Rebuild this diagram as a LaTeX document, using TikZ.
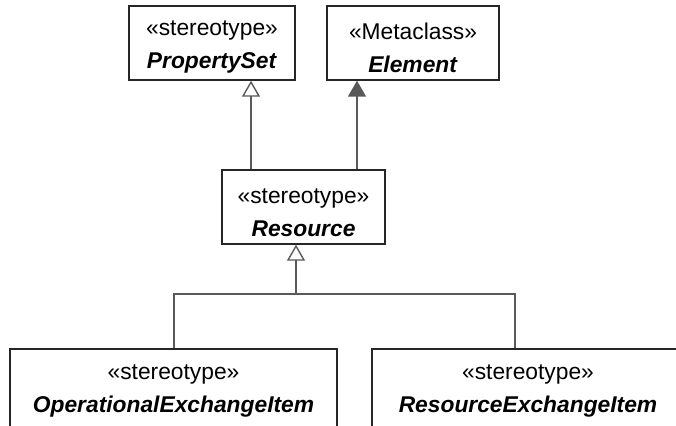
\documentclass[tikz,border=0pt]{standalone}
\usepackage{fontspec}
\setmainfont{Liberation Sans}
\usetikzlibrary{arrows.meta}
\begin{document}
\begin{tikzpicture}[x=1pt,y=1pt,
  box/.style={draw=black!85, line width=1.4pt, rectangle, inner sep=0pt},
  txt/.style={inner sep=0pt, align=center, font=\fontsize{22.8}{33}\selectfont},
  conn/.style={draw=black!65, line width=1.4pt},
  gen/.style={conn, -{Triangle[open, length=16pt, width=18pt, fill=white]}},
  ext/.style={conn, -{Triangle[length=16pt, width=18pt]}}]
\useasboundingbox (0,0) rectangle (676,425);
\clip (0,0) rectangle (676,425);
\node[box, minimum width=166pt, minimum height=74pt] (ps) at (212,382) {};
\node[box, minimum width=172pt, minimum height=74pt] (el) at (413,382) {};
\node[box, minimum width=163pt, minimum height=74pt] (res) at (303.5,218) {};
\node[box, minimum width=327pt, minimum height=90pt] (oei) at (173.5,31) {};
\node[box, minimum width=318pt, minimum height=90pt] (rei) at (531,31) {};
\node[txt] (pst) at (212,377.5) {«stereotype»\\\textbf{\textit{PropertySet}}};
\node[txt] (elt) at (413,377.5) {«Metaclass»\\\textbf{\textit{Element}}};
\node[txt] (rest) at (303.5,212.5) {«stereotype»\\\textbf{\textit{Resource}}};
\node[txt] (oeit) at (173.5,34.5) {«stereotype»\\\textbf{\textit{OperationalExchangeItem}}};
\node[txt] (reit) at (528,34.5) {«stereotype»\\\textbf{\textit{ResourceExchangeItem}}};
\coordinate (psx) at (251,0);
\coordinate (elx) at (357,0);
\coordinate (j) at (296,131);
\coordinate (lx) at (174,0);
\coordinate (rx) at (515,0);
\draw[gen] (res.north -| psx) -- (ps.south -| psx);
\draw[ext] (res.north -| elx) -- (el.south -| elx);
\draw[gen] (j) -- (res.south -| j);
\draw[conn] (oei.north -| lx) |- (j) -| (rei.north -| rx);
\end{tikzpicture}
\end{document}
